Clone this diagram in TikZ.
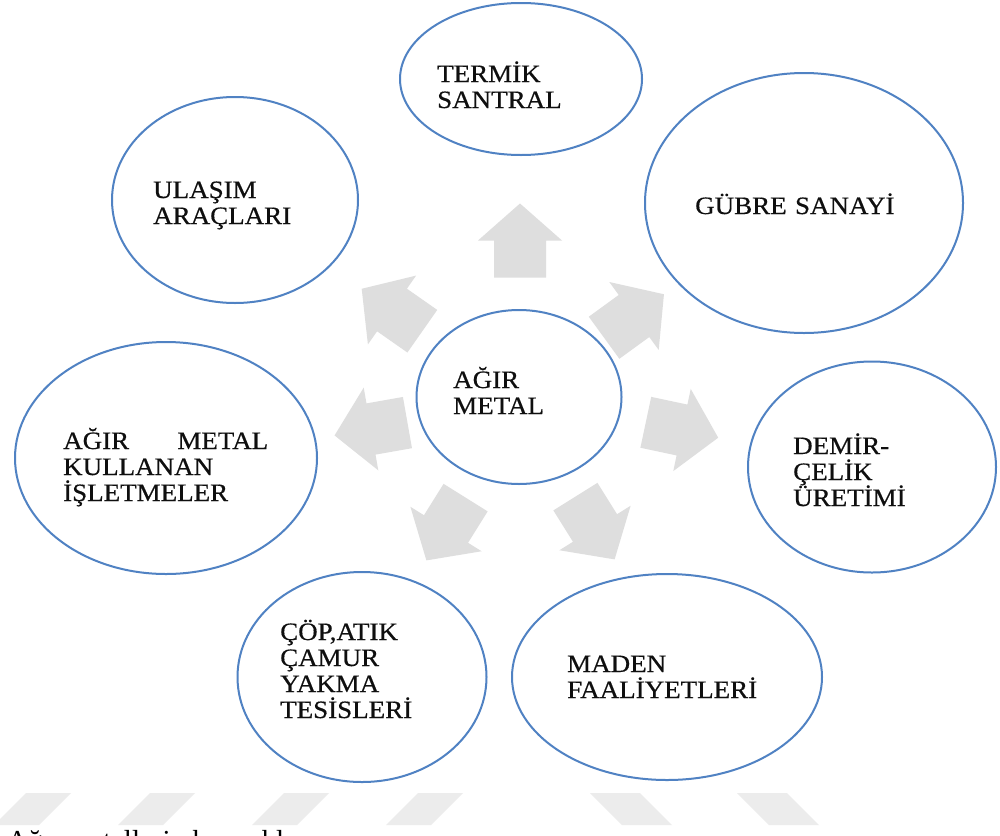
\documentclass[tikz,border=0pt]{standalone}
\usepackage{fontspec}
\setmainfont{Liberation Serif}
\newfontfamily\lblfont[FakeStretch=1.08,FakeBold=0.5]{Liberation Serif}
\usetikzlibrary{shapes.geometric}
\definecolor{ringblue}{RGB}{80,130,195}
\definecolor{arrowgray}{RGB}{222,222,222}
\definecolor{stripegray}{RGB}{236,236,236}
\definecolor{txt}{RGB}{15,15,15}
\begin{document}
\begin{tikzpicture}[x=1pt,y=-1pt,
  ring/.style={ellipse, draw=ringblue, line width=2pt, inner sep=0pt},
  lbl/.style={text width=330pt, align=left, inner sep=0pt, anchor=base west, text=txt,
              font=\lblfont\fontsize{25}{26}\selectfont},
  blockarrow/.style={fill=arrowgray},
  stripe/.style={fill=stripegray}]
\clip (0,0) rectangle (1000,835);
\fill[white] (0,0) rectangle (1000,835);

% watermark stripes
\foreach \b in {-6,118,252,386}{
  \fill[stripe] (\b,825) -- (\b+45,825) -- (\b+77,793) -- (\b+32,793) -- cycle;
}
\foreach \b in {590,737}{
  \fill[stripe] (\b,793) -- (\b+50,793) -- (\b+82,825) -- (\b+32,825) -- cycle;
}

% block arrows
\foreach \cx/\cy/\ang in {520/240.5/90, 634/316/36, 682/430/-12, 595/528/-58, 446/529/238, 371/429/190, 392/310/145}{
  \fill[blockarrow, shift={(\cx,\cy)}, rotate=\ang]
    (-37,-26) -- (0,-26) -- (0,-42) -- (37,0) -- (0,42) -- (0,26) -- (-37,26) -- cycle;
}

% ellipses
\node[ring, minimum width=246pt, minimum height=206pt] (ulasim) at (235,200) {};
\node[ring, minimum width=242pt, minimum height=152pt] (termik) at (521,79) {};
\node[ring, minimum width=318pt, minimum height=260pt] (gubre) at (804,203) {};
\node[ring, minimum width=205pt, minimum height=174pt] (agirmetal) at (519,397) {};
\node[ring, minimum width=248pt, minimum height=211pt] (demir) at (872,467) {};
\node[ring, minimum width=310pt, minimum height=206pt] (maden) at (667,677) {};
\node[ring, minimum width=249pt, minimum height=210pt] (cop) at (362,677) {};
\node[ring, minimum width=302pt, minimum height=232pt] (isletme) at (166,458) {};

% labels
\node[lbl] (ulasimtxt) at (153,198) {ULAŞIM\\ARAÇLARI};
\node[lbl] (termiktxt) at (437,82) {TERMİK\\SANTRAL};
\node[lbl] (gubretxt) at (695,214) {GÜBRE SANAYİ};
\node[lbl] (agirtxt) at (453,388) {AĞIR\\METAL};
\node[lbl] (demirtxt) at (793,454) {DEMİR-\\ÇELİK\\ÜRETİMİ};
\node[lbl] (madentxt) at (567,672) {MADEN\\FAALİYETLERİ};
\node[lbl] (coptxt) at (280,640) {ÇÖP,ATIK\\ÇAMUR\\YAKMA\\TESİSLERİ};
\node[lbl, text width=205pt] (isletmetxt) at (63,449) {AĞIR\hfill METAL\\KULLANAN\\İŞLETMELER};

% cut-off caption
\node[anchor=base west, inner sep=0pt, font=\fontsize{29}{32}\selectfont, text=black] (caption) at (7,850) {Ağır metallerin kaynakları};
\end{tikzpicture}
\end{document}
